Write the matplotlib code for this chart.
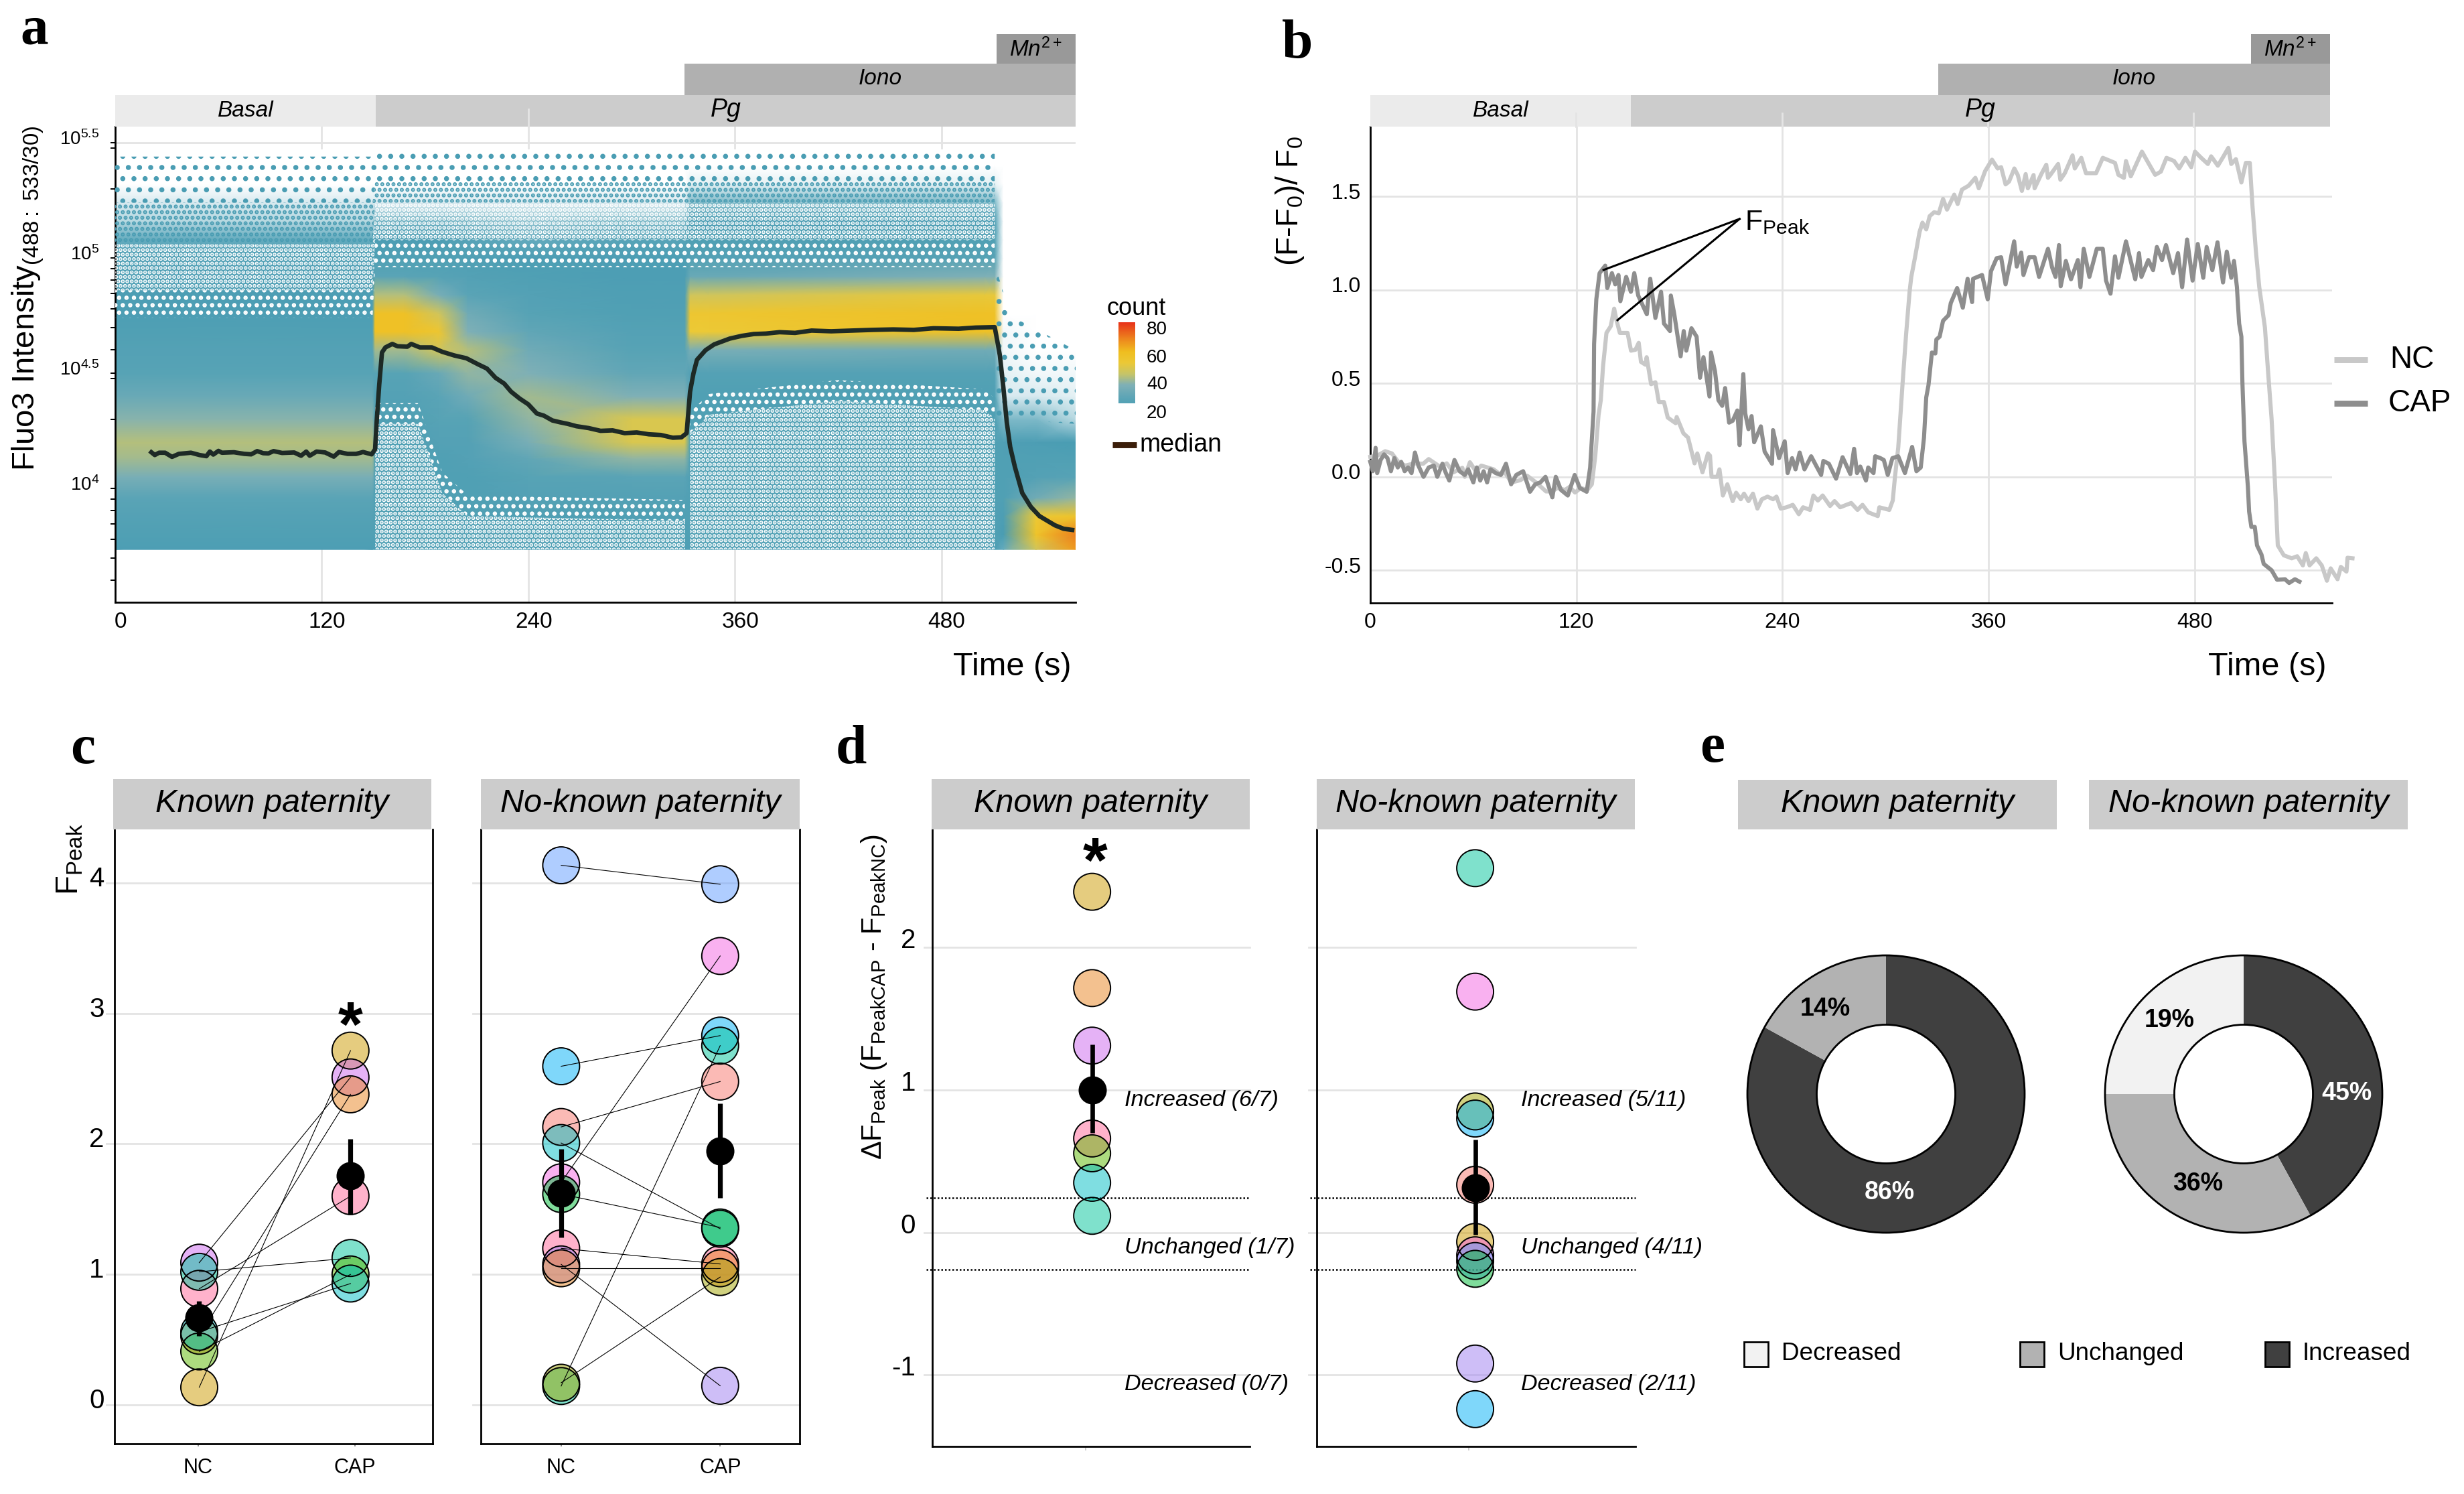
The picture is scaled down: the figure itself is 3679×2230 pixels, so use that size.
import numpy as np
import matplotlib
matplotlib.use("Agg")
import matplotlib.pyplot as plt
from matplotlib.colors import LinearSegmentedColormap
from matplotlib.patches import Rectangle, Circle
from matplotlib.transforms import ScaledTranslation

plt.rcParams['font.family'] = ['Liberation Sans', 'DejaVu Sans']
plt.rcParams['mathtext.fontset'] = 'custom'
plt.rcParams['mathtext.rm'] = 'Liberation Sans'
plt.rcParams['mathtext.it'] = 'Liberation Sans:italic'
plt.rcParams['mathtext.bf'] = 'Liberation Sans:bold'
plt.rcParams['axes.unicode_minus'] = False
plt.rcParams['hatch.linewidth'] = 1.5

W, H, DPI = 3680, 2230, 200
GRID = '#E4E4E4'
TEAL = '#4A9DB3'

# ---- panel a: density read by eye, log10 intensity rows, one list per time column
dens_rows = [3.735, 3.80, 3.88, 3.96, 4.05, 4.13, 4.20, 4.30, 4.40, 4.50, 4.60,
             4.68, 4.76, 4.84, 4.92, 5.00, 5.08, 5.16, 5.24, 5.32, 5.40, 5.47]
dens_times = [0, 149.5, 151, 168, 188, 205, 240, 300, 331, 334, 345, 505, 511, 516, 535, 558]
col_basal = [22, 24, 26, 30, 38, 44, 46, 41, 34, 28, 26, 24, 22, 22, 22, 22, 16, 6, 3, 0, 0, 0]
col_peak = [22, 24, 24, 24, 24, 24, 24, 24, 26, 28, 44, 62, 62, 46, 30, 24, 22, 14, 3, 0, 0, 0]
col_peak2 = [22, 24, 24, 24, 24, 24, 26, 28, 30, 34, 50, 58, 50, 38, 28, 24, 22, 14, 3, 0, 0, 0]
col_fall = [22, 24, 24, 24, 24, 26, 26, 28, 36, 42, 46, 40, 36, 30, 26, 24, 18, 12, 3, 0, 0, 0]
col_mid = [22, 24, 24, 26, 28, 32, 38, 42, 44, 40, 36, 32, 28, 26, 24, 22, 16, 10, 3, 0, 0, 0]
col_low = [22, 24, 24, 26, 30, 42, 52, 52, 40, 32, 28, 26, 24, 23, 22, 22, 18, 12, 3, 0, 0, 0]
col_iono = [22, 24, 24, 24, 24, 24, 24, 24, 24, 26, 38, 56, 58, 50, 34, 26, 24, 22, 12, 2, 0, 0]
col_iono2 = [22, 24, 24, 24, 24, 24, 24, 24, 24, 26, 36, 62, 62, 55, 40, 28, 24, 22, 12, 2, 0, 0]
col_drop = [16, 20, 22, 24, 24, 24, 24, 12, 3, 2, 1, 1, 0, 0, 0, 0, 0, 0, 0, 0, 0, 0]
col_mn = [50, 60, 56, 36, 26, 24, 22, 12, 3, 1, 0, 0, 0, 0, 0, 0, 0, 0, 0, 0, 0, 0]
col_end = [70, 74, 60, 42, 28, 24, 20, 6, 2, 1, 0, 0, 0, 0, 0, 0, 0, 0, 0, 0, 0, 0]

# speckled zones of the density: time, lower and upper log10 edge
holes_low_t = [151, 176, 190, 205, 331]
holes_low_top = [4.28, 4.28, 3.98, 3.88, 3.86]
holes_iono_t = [334, 345, 420, 505, 511]
holes_iono_top = [4.24, 4.32, 4.38, 4.34, 4.30]
holes_mid_t = [0, 149.5, 151, 511]
holes_fringe_lo = [4.74, 4.74, 4.96, 4.96]
holes_fringe_hi = [4.86, 4.86, 5.08, 5.08]
holes_core_hi = [5.06, 5.06, 5.24, 5.24]
dots_near_hi = [5.24, 5.24, 5.33, 5.33]
dots_top_hi = [5.44, 5.44, 5.47, 5.47]
dots_mn_t = [512, 520, 558]
dots_mn_lo = [4.3, 4.3, 4.28]
dots_mn_hi = [4.95, 4.75, 4.6]

median_t = [21, 23, 25.5, 29, 33, 37, 44, 49, 53, 55, 57, 60, 62, 69, 75, 79, 82.5, 86, 89, 92, 97,
            104, 108, 111, 113, 117, 122, 127, 130, 135, 140, 144, 149, 151, 152, 153.4, 155, 157,
            161, 164, 169.7, 172, 177, 184, 190, 197, 204, 211, 216, 221, 226, 230, 235, 240, 245,
            249, 254, 258.5, 263, 268, 275, 282, 289, 296, 303, 310, 317, 324, 329, 332, 334, 336,
            338, 343, 348, 357, 364, 371, 378, 386, 395, 404.6, 416, 428, 440, 452, 464, 475.5, 490,
            500, 511, 512.5, 514, 516, 518, 520, 522.7, 527, 532, 537, 546, 551, 556]
median_v = [4.157, 4.145, 4.155, 4.155, 4.137, 4.15, 4.155, 4.145, 4.14, 4.16, 4.147, 4.163, 4.155,
            4.157, 4.15, 4.148, 4.162, 4.153, 4.152, 4.162, 4.154, 4.156, 4.142, 4.16, 4.142, 4.16,
            4.156, 4.138, 4.158, 4.15, 4.15, 4.158, 4.148, 4.17, 4.3, 4.45, 4.59, 4.612, 4.627, 4.617,
            4.615, 4.627, 4.612, 4.612, 4.593, 4.577, 4.565, 4.538, 4.52, 4.48, 4.455, 4.42, 4.39,
            4.365, 4.325, 4.316, 4.295, 4.287, 4.28, 4.27, 4.262, 4.25, 4.252, 4.24, 4.243, 4.235,
            4.232, 4.22, 4.222, 4.24, 4.42, 4.5, 4.558, 4.6, 4.625, 4.65, 4.662, 4.67, 4.672, 4.678,
            4.675, 4.685, 4.682, 4.685, 4.688, 4.69, 4.688, 4.695, 4.693, 4.698, 4.70, 4.64, 4.577,
            4.44, 4.287, 4.18, 4.094, 3.98, 3.92, 3.88, 3.84, 3.825, 3.82]

# ---- panel b: mean traces
nc_t = [0, 4, 8.7, 12.6, 16.5, 20.4, 25.6, 30.8, 34, 40.6, 44.5, 48.4, 53.6, 55, 58, 61.4, 64.6, 71.8,
        75.7, 78.3, 82.2, 87.4, 91.3, 96.5, 102.3, 105.6, 108.9, 113.4, 116, 119.2, 122.5, 126.4, 129,
        131, 132.9, 134.2, 135.5, 137.5, 140, 142, 143.3, 145.3, 149.8, 151.8, 154.4, 156.3, 157.6,
        160.2, 160.9, 163.5, 166, 168, 171, 173.2, 177.8, 178.4, 182.3, 185, 188.8, 190.4, 193.4,
        196.6, 197.8, 198.7, 202, 203.3, 205.3, 207.9, 211, 213, 215.7, 217.6, 220.2, 222.8, 225.4,
        228, 231.3, 234.5, 236.5, 239, 242.4, 246, 249.5, 252, 256, 258, 260.6, 263.4, 267.7, 270.3,
        273.6, 280, 283.7, 286.6, 289.9, 295.5, 296.4, 302.2, 304.2, 305.5, 307.4, 310, 312, 314, 315,
        317.2, 319.8, 321.5, 323.7, 325.7, 328.3, 331, 333.5, 335.8, 340, 342, 344.5, 348.4, 352.3,
        354.3, 358, 362, 365.3, 367.3, 369.9, 371.9, 375, 377, 379.4, 381.6, 382.9, 386.2, 386.8,
        390.7, 393.6, 394.6, 396, 400.5, 401.8, 404.4, 408.9, 410.2, 414, 416.7, 422.6, 426.5, 433.6,
        435.6, 438.8, 440, 442.8, 449.3, 453, 457, 460.3, 463.6, 468, 471, 474.6, 478, 480.2, 483.8,
        487.7, 489.6, 493.5, 496.8, 499.6, 501.3, 504, 507.2, 509.8, 512.1, 513.7, 515.6, 517.6, 520.9,
        522.8, 524.8, 526.7, 528.4, 531.9, 536.5, 539.7, 543, 544.7, 546.9, 550.8, 554, 557, 559.2,
        563.2, 565.1, 568.4, 569, 571.9]
nc_v = [.107, .113, .137, .125, .078, .06, .072, .07, .095, .054, .072, .024, .048, 0, .078, .03, .06,
        .04, .012, .024, -.03, -.018, .006, -.03, -.078, -.078, -.06, -.07, -.054, -.084, -.06, -.07,
        -.04, .113, .33, .41, .59, .77, .806, .90, .84, .77, .77, .675, .68, .717, .615, .60, .64, .496,
        .506, .40, .40, .317, .287, .32, .233, .21, .072, .125, .024, .125, .113, 0, 0, .04, -.10, -.04,
        -.13, -.085, -.12, -.09, -.13, -.09, -.17, -.12, -.106, -.12, -.106, -.17, -.163, -.15, -.2,
        -.163, -.177, -.10, -.127, -.10, -.156, -.13, -.163, -.14, -.177, -.15, -.19, -.21, -.163, -.177,
        -.127, 0, .156, .51, .765, .99, 1.07, 1.176, 1.31, 1.36, 1.324, 1.395, 1.416, 1.41, 1.487, 1.43,
        1.51, 1.46, 1.537, 1.558, 1.60, 1.544, 1.636, 1.697, 1.65, 1.657, 1.565, 1.58, 1.65, 1.615, 1.53,
        1.62, 1.544, 1.615, 1.544, 1.62, 1.67, 1.6, 1.616, 1.674, 1.59, 1.625, 1.72, 1.65, 1.707, 1.625,
        1.625, 1.707, 1.68, 1.616, 1.6, 1.69, 1.608, 1.74, 1.68, 1.616, 1.633, 1.707, 1.69, 1.65, 1.707,
        1.657, 1.74, 1.707, 1.674, 1.715, 1.665, 1.715, 1.76, 1.674, 1.7, 1.575, 1.68, 1.68, 1.444, 1.213,
        1.016, .80, .555, .308, -.02, -.367, -.42, -.436, -.425, -.474, -.408, -.474, -.436, -.474, -.556,
        -.49, -.548, -.482, -.507, -.433, -.436]
cap_t = [0, 1.5, 3.1, 4, 6, 8, 10, 12, 14, 16, 18, 20, 22, 24, 26, 28, 31, 34, 37, 39, 42, 44, 46, 49,
         52, 55, 57, 60, 62, 64, 66, 68, 70, 73, 76, 79, 82, 85, 89, 93, 96, 99, 102, 106, 108, 111,
         115, 119, 122, 126, 128, 130, 130.3, 131.6, 133.5, 136.8, 138, 140.7, 142.6, 144.5, 145.6, 149,
         151.7, 153.7, 156, 161, 163, 166, 169.3, 171, 174.5, 175, 177, 180.7, 182.5, 184, 187, 190, 192,
         194, 197.5, 198.4, 200.7, 202.7, 204.9, 206.6, 208.9, 211, 213.7, 215, 217.2, 218.3, 220.2, 222,
         223.5, 227.4, 229.6, 233.9, 234.5, 238, 241.3, 243, 245.6, 247.6, 250, 252.8, 256.7, 259, 262.5,
         263.8, 267, 271.2, 275, 279.5, 281.7, 283.4, 285.3, 288.6, 289.9, 293, 294, 297, 299, 301.3, 304,
         307.4, 311.3, 315.5, 318, 320.5, 322.4, 323.7, 325, 327, 329, 329.6, 331.5, 333.5, 336.7, 338,
         341.7, 345, 347.8, 350.4, 351, 356.2, 359.5, 361.4, 364.7, 367.3, 369.9, 371.9, 374.9, 376.4,
         379, 380.3, 383.6, 386.8, 389.4, 394.6, 397, 399, 401, 402, 405, 408, 412, 413.5, 415.4, 418.7,
         423, 426.5, 428.4, 431, 433.6, 435.6, 440, 445.4, 447.6, 449, 453, 455.8, 458, 461, 463.3, 467.5,
         470.3, 472.7, 475.6, 478.8, 481.8, 485, 487, 490.3, 493.3, 496.5, 498.7, 501.3, 502.9, 504.6,
         505.9, 507.2, 507.8, 509, 511, 511.7, 513, 515, 516.3, 518.9, 520.2, 524.8, 528, 532.6, 535,
         538.4, 541]
cap_v = [.08, .03, .155, .02, .09, .12, .10, .03, .10, .05, .08, .03, .05, .02, .13, .06, 0, .05, .06,
         0, .07, .02, -.02, .09, .03, .01, .04, -.03, .05, -.02, .03, -.03, .04, .02, .01, .07, -.04, .01,
         .03, -.08, -.04, -.03, 0, -.11, 0, -.07, -.10, .01, -.06, -.08, .05, .35, .71, .95, 1.09, 1.13,
         1.01, 1.09, 1.03, 1.08, .94, 1.07, .99, 1.09, .97, .87, 1.06, .85, .99, .82, .78, .97, .87, .645,
         .78, .675, .795, .75, .53, .64, .43, .665, .565, .41, .38, .475, .29, .30, .355, .17, .55, .34,
         .255, .325, .185, .27, .135, .07, .25, .10, .19, .02, .10, .04, .13, .04, .11, .07, .01, .085,
         .07, -.01, .105, .015, .15, .02, .055, -.02, .05, .02, .11, .10, .09, .01, .10, .11, .02, .16,
         .03, .05, .21, .425, .49, .665, .66, .735, .75, .835, .865, .93, 1.01, .905, 1.06, .935, 1.06, 1.08,
         .95, 1.10, 1.17, 1.175, 1.03, 1.12, 1.26, 1.125, 1.20, 1.08, 1.175, 1.175, 1.07, 1.22, 1.12, 1.07,
         1.24, 1.02, 1.155, 1.057, 1.16, 1.015, 1.22, 1.07, 1.22, 1.22, 1.05, .98, 1.18, 1.065, 1.26, 1.057,
         1.197, 1.07, 1.16, 1.106, 1.23, 1.16, 1.24, 1.09, 1.197, 1.015, 1.27, 1.05, 1.246, 1.065, 1.23,
         1.106, 1.255, 1.04, 1.205, 1.065, 1.155, 1.015, .82, .75, .505, .19, -.054, -.186, -.268, -.268,
         -.367, -.416, -.466, -.5, -.551, -.548, -.568, -.548, -.561]

# ---- panel c: paired peaks, NC then CAP, with the dot colour of each donor
known_nc = [.135, 1.09, .53, .89, 1.02, .41, .56]
known_cap = [2.715, 2.51, 2.38, 1.60, 1.126, 1.00, .93]
known_cols = ['#CC9A00', '#CC66EE', '#E88520', '#FF6699', '#00C49A', '#5CB800', '#00BFC4']
nok_nc = [4.135, 2.595, 2.13, 2.007, 1.706, 1.616, 1.20, 1.077, 1.047, .145, .17]
nok_cap = [3.99, 2.83, 2.478, 1.35, 3.44, 1.36, 1.08, .147, 1.047, 2.753, .98]
nok_cols = ['#619CFF', '#00B0F6', '#F8766D', '#00BFC4', '#F564E3', '#00BA38', '#FF6699',
            '#9E7FF0', '#E88520', '#00C49A', '#A3A500']
known_mean = [.67, 1.755]
known_lo = [.53, 1.46]
known_hi = [.795, 2.04]
nok_mean = [1.623, 1.947]
nok_lo = [1.285, 1.585]
nok_hi = [1.96, 2.31]

# ---- panel d
dknown = [2.392, 1.716, 1.312, .66, .556, .349, .117]
dknown_cols = ['#CC9A00', '#E88520', '#CC66EE', '#FF6699', '#5CB800', '#00BFC4', '#00C49A']
dnok = [2.558, 1.691, .85, .80, .335, -.066, -.16, -.2, -.255, -.92, -1.24]
dnok_cols = ['#00C49A', '#F564E3', '#A3A500', '#00B0F6', '#F8766D', '#CC9A00', '#F564E3',
             '#619CFF', '#00BA38', '#9E7FF0', '#00B0F6']
dknown_stat = [1.0, .70, 1.32]
dnok_stat = [.314, -.014, .65]
dband = [.242, -.262]

# ---- panel e: drawn slice shares as measured on the rings, printed labels as printed
slice_known = [83, 17]
slice_known_cols = ['#404040', '#B2B2B2']
slice_nok = [42, 33, 25]
slice_nok_cols = ['#404040', '#B2B2B2', '#F2F2F2']


def add_px(l, t, r, b):
    return fig.add_axes([l / W, 1 - b / H, (r - l) / W, (b - t) / H])


def shift_labels(labels, dx, dy):
    # nudge tick labels by pixels, the originals sit a bit off their ticks
    for lab in labels:
        lab.set_transform(lab.get_transform() + ScaledTranslation(dx / DPI, -dy / DPI, fig.dpi_scale_trans))


fig = plt.figure(figsize=(W / DPI, H / DPI), dpi=DPI, facecolor='white')

ov = fig.add_axes([0, 0, 1, 1], zorder=20)
ov.set_xlim(0, W)
ov.set_ylim(H, 0)
ov.axis('off')
ov.patch.set_alpha(0)


def rect(x0, y0, x1, y1, **kw):
    ov.add_patch(Rectangle((x0, y0), x1 - x0, y1 - y0, **kw))


def letter(x, y, s):
    ov.text(x, y, s, family='Liberation Serif', weight='bold', size=30, ha='left', va='baseline')


def treatment_strip(x0, xb, xi, xm, x1):
    rect(xi, 95, x1, 142, fc='#B0B0B0', ec='none', zorder=1)
    rect(xm, 51, x1, 95, fc='#999999', ec='none', zorder=1)
    rect(x0, 142, xb, 189, fc='#EBEBEB', ec='none', zorder=1)
    rect(xb, 142, x1, 189, fc='#CCCCCC', ec='none', zorder=1)
    ov.text((x0 + xb) / 2, 166, 'Basal', style='italic', size=12, ha='center', va='center', zorder=3)
    ov.text((xb + x1) / 2, 164, 'Pg', style='italic', size=13.5, ha='center', va='center', zorder=3)
    ov.text((xi + x1) / 2, 118, 'Iono', style='italic', size=12, ha='center', va='center', zorder=3)
    ov.text((xm + x1) / 2, 74, r'$\mathit{Mn}^{\mathit{2+}}$', size=12, ha='center', va='center', zorder=3)


# ---------- a
cmap = LinearSegmentedColormap.from_list('dens', [
    (0, '#FFFFFF'), (4 / 85, '#C9E2E9'), (12 / 85, '#7DB9C8'), (20 / 85, TEAL),
    (30 / 85, '#5AA4B6'), (40 / 85, '#7FB0B6'), (48 / 85, '#C6C468'), (56 / 85, '#ECC936'),
    (64 / 85, '#F0BE20'), (72 / 85, '#EE8E1E'), (1, '#E8341A')])
axa = add_px(172, 189, 1606, 899)
axa.set_yscale('log')
dens_cols = [col_basal, col_basal, col_peak, col_peak, col_peak2, col_fall, col_mid, col_low, col_low,
             col_iono, col_iono, col_iono2, col_iono2, col_drop, col_mn, col_end]
dens = np.column_stack(dens_cols)
axa.pcolormesh(dens_times, 10 ** np.array(dens_rows), dens, shading='gouraud', cmap=cmap, vmin=0, vmax=85, zorder=2)


def speckle(t, lo, hi, color, hatch):
    axa.fill_between(t, 10 ** np.array(lo), 10 ** np.array(hi), facecolor='none', edgecolor=color,
                     linewidth=0, hatch=hatch, zorder=3)


floor = [3.735] * 5
fringe = 0.09
for t_band, top in [(holes_low_t, holes_low_top), (holes_iono_t, holes_iono_top)]:
    speckle(t_band, floor, top, 'white', '.....')
    speckle(t_band, top, np.array(top) + fringe, 'white', '...')
speckle(holes_mid_t, holes_fringe_lo, holes_fringe_hi, 'white', '...')
speckle(holes_mid_t, holes_fringe_hi, holes_core_hi, 'white', '.....')
speckle(holes_mid_t, holes_core_hi, dots_near_hi, TEAL, '....')
speckle(holes_mid_t, dots_near_hi, dots_top_hi, TEAL, '..')
speckle(dots_mn_t, dots_mn_lo, dots_mn_hi, TEAL, '..')
axa.plot(median_t, 10 ** np.array(median_v), color='#1E2A26', lw=2.4, zorder=4)
axa.set_xlim(0, 558)
axa.set_ylim(10 ** 3.506, 10 ** 5.57)
axa.set_xticks([0, 120, 240, 360, 480])
axa.set_yticks([10 ** 4, 10 ** 4.5, 10 ** 5, 10 ** 5.5])
axa.set_yticklabels([r'$\mathregular{10^{4}}$', r'$\mathregular{10^{4.5}}$', r'$\mathregular{10^{5}}$', r'$\mathregular{10^{5.5}}$'])
axa.yaxis.set_minor_locator(matplotlib.ticker.LogLocator(base=10, subs=range(2, 10), numticks=12))
axa.yaxis.set_minor_formatter(matplotlib.ticker.NullFormatter())
axa.tick_params(axis='y', which='both', length=2.5, width=0.7, pad=6, labelsize=10)
axa.tick_params(axis='x', length=0, pad=5, labelsize=12)
axa.grid(True, which='major', color=GRID, lw=1.0, zorder=0)
axa.set_axisbelow(True)
for s in ['top', 'right']:
    axa.spines[s].set_visible(False)
for s in ['left', 'bottom']:
    axa.spines[s].set_linewidth(1.0)
shift_labels(axa.get_xticklabels(), 8, 0)
shift_labels(axa.get_yticklabels(), 0, -8)

treatment_strip(172, 561, 1022, 1488, 1606)
ov.plot([789, 789], [163, 189], color=GRID, lw=1.0, zorder=2)
letter(30, 65, 'a')
ov.text(42, 445, r'Fluo3 Intensity$_{\mathregular{(488:\ 533/30)}}$', rotation=90, size=17, ha='center', va='center')
ov.text(1600, 995, 'Time (s)', size=17.5, ha='right', va='center')

ov.text(1697, 461, 'count', size=13, ha='center', va='center')
axb_leg = add_px(1670, 481, 1695, 602)
axb_leg.imshow(np.linspace(85, 27, 120).reshape(-1, 1), aspect='auto', cmap=cmap, vmin=0, vmax=85)
axb_leg.axis('off')
for v, yy in zip(['80', '60', '40', '20'], [492, 534, 574, 617]):
    ov.text(1712, yy, v, size=10, ha='left', va='center')
ov.plot([1661, 1697], [664, 664], color='#3B1E0A', lw=3.2, solid_capstyle='butt')
ov.text(1701, 664, 'median', size=13.5, ha='left', va='center')

# ---------- b
axb = add_px(2046, 189, 3482, 900)
axb.plot(nc_t, nc_v, color='#C8C8C8', lw=2.2, clip_on=False, zorder=3, solid_joinstyle='round')
axb.plot(cap_t, cap_v, color='#8E8E8E', lw=2.2, clip_on=False, zorder=4, solid_joinstyle='round')
axb.plot([135.8, 215], [1.107, 1.38], color='black', lw=1.1, zorder=5)
axb.plot([143.9, 215], [.838, 1.38], color='black', lw=1.1, zorder=5)
axb.text(218, 1.36, r'F$_{\mathregular{Peak}}$', size=15.5, ha='left', va='center')
axb.set_xlim(0, 560)
axb.set_ylim(-.675, 1.874)
axb.set_xticks([0, 120, 240, 360, 480])
axb.set_yticks([-.5, 0, .5, 1, 1.5])
axb.set_yticklabels(['-0.5', '0.0', '0.5', '1.0', '1.5'])
axb.tick_params(length=0, pad=5, labelsize=11.5)
axb.grid(True, color=GRID, lw=1.0, zorder=0)
axb.set_axisbelow(True)
for s in ['top', 'right']:
    axb.spines[s].set_visible(False)
for s in ['left', 'bottom']:
    axb.spines[s].set_linewidth(1.0)
shift_labels(axb.get_yticklabels(), 0, -8)

treatment_strip(2046, 2435, 2894, 3361, 3479)
for xg in [2353, 2661, 2968, 3275]:
    ov.plot([xg, xg], [169, 189], color=GRID, lw=1.0, zorder=2)
letter(1914, 86, 'b')
ov.text(1926, 300, r'(F-F$_{\mathregular{0}}$)/ F$_{\mathregular{0}}$', rotation=90, size=16.5, ha='center', va='center')
ov.text(3474, 995, 'Time (s)', size=17.5, ha='right', va='center')
ov.plot([3485, 3535], [537, 537], color='#C8C8C8', lw=3.2, solid_capstyle='butt')
ov.plot([3485, 3535], [602, 602], color='#8E8E8E', lw=3.2, solid_capstyle='butt')
ov.text(3568, 537, 'NC', size=16.5, ha='left', va='center')
ov.text(3566, 602, 'CAP', size=16.5, ha='left', va='center')


def facet_title(x0, x1, y0, s):
    rect(x0, y0, x1, 1238, fc='#CCCCCC', ec='none')
    ov.text((x0 + x1) / 2, y0 + 37, s, style='italic', size=17.5, ha='center', va='center')


def style_facet(ax, yticks, left_labels, pad):
    ax.set_yticks(yticks)
    ax.tick_params(axis='y', length=0, pad=pad, labelsize=14.5, labelleft=left_labels)
    for v in yticks:
        ax.plot([-.025, 1], [v, v], transform=ax.get_yaxis_transform(), color=GRID, lw=1.0, clip_on=False, zorder=0)
    ax.spines['top'].set_visible(False)
    for s in ax.spines.values():
        s.set_linewidth(1.0)


def paired(ax, nc, cap, cols, mean, lo, hi, x):
    for a, b in zip(nc, cap):
        ax.plot([0, 1], [a, b], color='black', lw=.4, zorder=3)
    ax.scatter([0] * len(nc), nc, s=392, c=cols, alpha=.5, edgecolors='none', zorder=2)
    ax.scatter([1] * len(cap), cap, s=392, c=cols, alpha=.5, edgecolors='none', zorder=2)
    ax.scatter([0] * len(nc), nc, s=392, facecolors='none', edgecolors='black', linewidths=.7, zorder=2.5)
    ax.scatter([1] * len(cap), cap, s=392, facecolors='none', edgecolors='black', linewidths=.7, zorder=2.5)
    ax.vlines(x, lo, hi, color='black', lw=2.6, zorder=5)
    ax.scatter(x, mean, s=200, color='black', zorder=6)


# ---------- c
axc1 = add_px(171, 1238, 646, 2155)
paired(axc1, known_nc, known_cap, known_cols, known_mean, known_lo, known_hi, [0, 1])
axc1.set_xlim(-.56, 1.543)
axc1.set_ylim(-.2975, 4.41)
style_facet(axc1, [0, 1, 2, 3, 4], True, 5.5)
axc1.set_xticks([-.007, 1.03])
axc1.set_xticklabels(['NC', 'CAP'])
axc1.tick_params(axis='x', length=1.5, width=.7, color='#888888', pad=6, labelsize=11)
shift_labels(axc1.get_yticklabels(), 0, -10)
axc1.text(1, 2.88, '*', size=34, weight='bold', ha='center', va='center', zorder=7)

axc2 = add_px(718, 1238, 1194, 2155)
paired(axc2, nok_nc, nok_cap, nok_cols, nok_mean, nok_lo, nok_hi, [0, 1])
axc2.set_xlim(-.505, 1.50)
axc2.set_ylim(-.2975, 4.41)
style_facet(axc2, [0, 1, 2, 3, 4], False, 5.5)
axc2.set_xticks([0, 1])
axc2.set_xticklabels(['NC', 'CAP'])
axc2.tick_params(axis='x', length=1.5, width=.7, color='#888888', pad=6, labelsize=11)

facet_title(169, 644, 1163, 'Known paternity')
facet_title(718, 1194, 1163, 'No-known paternity')
letter(105, 1139, 'c')
ov.text(105, 1283, r'F$_{\mathregular{Peak}}$', rotation=90, size=17, ha='center', va='center')


def diffs(ax, vals, cols, stat, bands, pos):
    ax.scatter([pos] * len(vals), vals, s=392, c=cols, alpha=.5, edgecolors='none', zorder=2)
    ax.scatter([pos] * len(vals), vals, s=392, facecolors='none', edgecolors='black', linewidths=.7, zorder=2.5)
    ax.vlines(pos, stat[1], stat[2], color='black', lw=2.4, zorder=5)
    ax.scatter([pos], [stat[0]], s=200, color='black', zorder=6)
    for b in bands:
        ax.plot([-.02, 1], [b, b], transform=ax.get_yaxis_transform(), color='black', lw=.9,
                ls=(0, (1, 1.2)), clip_on=False, zorder=1.5)
    ax.set_xlim(0, 1)
    ax.set_ylim(-1.502, 2.83)
    ax.set_xticks([pos - .02])
    ax.set_xticklabels([''])
    ax.tick_params(axis='x', length=2, width=.7, color='#CCCCCC')
    ax.spines['right'].set_visible(False)


# ---------- d
axd1 = add_px(1392, 1238, 1866, 2159)
diffs(axd1, dknown, dknown_cols, dknown_stat, dband, .5035)
style_facet(axd1, [-1, 0, 1, 2], True, 9)
shift_labels(axd1.get_yticklabels(), 0, -14)
axd1.text(.512, 2.58, '*', size=34, weight='bold', ha='center', va='center', zorder=7)

axd2 = add_px(1966, 1238, 2442, 2159)
diffs(axd2, dnok, dnok_cols, dnok_stat, dband, .497)
style_facet(axd2, [-1, 0, 1, 2], False, 9)

facet_title(1391, 1866, 1163, 'Known paternity')
facet_title(1966, 2441, 1163, 'No-known paternity')
letter(1248, 1139, 'd')
ov.text(1305, 1488, r'ΔF$_{\mathregular{Peak}}$ (F$_{\mathregular{PeakCAP}}$ - F$_{\mathregular{PeakNC}}$)',
        rotation=90, size=15, ha='center', va='center')
for x0, labs in [(1679, ['Increased (6/7)', 'Unchanged (1/7)', 'Decreased (0/7)']),
                 (2271, ['Increased (5/11)', 'Unchanged (4/11)', 'Decreased (2/11)'])]:
    for s, yy in zip(labs, [1643, 1863, 2067]):
        ov.text(x0, yy, s, style='italic', size=12.3, ha='left', va='center')


# ---------- e
def donut(cx, cy, vals, cols):
    ax = add_px(cx - 209, cy - 209, cx + 209, cy + 209)
    ax.pie(vals, colors=cols, startangle=90, counterclock=False, radius=207 / 209, wedgeprops=dict(width=.5 * 207 / 209))
    r = 207 / 209
    ax.add_patch(Circle((0, 0), r, fill=False, ec='black', lw=1))
    ax.add_patch(Circle((0, 0), r * .5, fill=False, ec='black', lw=1))
    ax.set_xlim(-1, 1)
    ax.set_ylim(-1, 1)


donut(2816, 1633, slice_known, slice_known_cols)
donut(3350, 1633, slice_nok, slice_nok_cols)
facet = [(2595, 3071, 'Known paternity'), (3119, 3595, 'No-known paternity')]
for x0, x1, s in facet:
    rect(x0, 1164, x1, 1238, fc='#CCCCCC', ec='none')
    ov.text((x0 + x1) / 2, 1199, s, style='italic', size=17.5, ha='center', va='center')
letter(2538, 1137, 'e')
for s, x, y, c in [('14%', 2725, 1506, 'black'), ('86%', 2821, 1780, 'white'), ('19%', 3239, 1523, 'black'),
                   ('45%', 3504, 1632, 'white'), ('36%', 3282, 1767, 'black')]:
    ov.text(x, y, s, weight='bold', size=13.5, color=c, ha='center', va='center')
for x, fc, s in [(2604, '#F2F2F2', 'Decreased'), (3016, '#B2B2B2', 'Unchanged'), (3382, '#404040', 'Increased')]:
    rect(x, 2003, x + 36, 2040, fc=fc, ec='black', lw=1)
    ov.text(x + 56, 2021, s, size=13.3, ha='left', va='center')

fig.savefig('out.png', dpi=DPI)
